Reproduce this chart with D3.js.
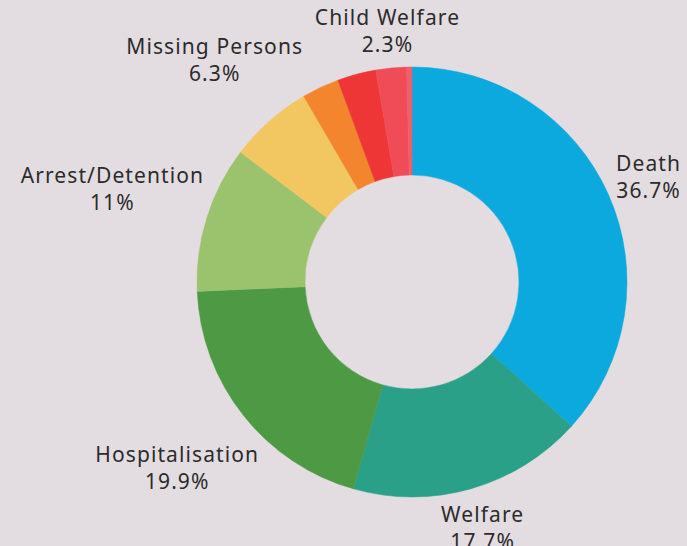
<!DOCTYPE html>
<html>
<head>
<meta charset="utf-8">
<script src="https://cdn.jsdelivr.net/npm/d3@7"></script>
<style>
  html, body { margin: 0; padding: 0; background: #e3dde1; }
  svg { display: block; }
</style>
</head>
<body>
<svg id="chart"></svg>
<script>
const width = 687,
  height = 546;

// slices clockwise from 12 o'clock
const categories = ["Death", "Welfare", "Hospitalisation", "Arrest/Detention", "Missing Persons", "Other A", "Other B", "Child Welfare", "Other C"];
const values = [36.7, 17.7, 19.9, 11, 6.3, 2.8, 2.9, 2.3, 0.4];
const labels = ["36.7%", "17.7%", "19.9%", "11%", "6.3%", null, null, "2.3%", null];
const colors = ["#0ba9de", "#2aa089", "#4d9944", "#9bc36d", "#f2c660", "#f4852f", "#ee3637", "#ef4c57", "#ef5e6b"];

const cx = 412,
  cy = 282,
  outerR = 215,
  innerR = 107;

const svg = d3
  .select("#chart")
  .attr("width", width)
  .attr("height", height);

const g = svg.append("g").attr("transform", `translate(${cx},${cy})`);

const data = categories.map((c, i) => ({ name: c, value: values[i], label: labels[i], color: colors[i] }));

const pie = d3.pie().value((d) => d.value).sort(null);
const arc = d3.arc().innerRadius(innerR).outerRadius(outerR);

const arcs = pie(data);

g.selectAll("path")
  .data(arcs)
  .enter()
  .append("path")
  .attr("d", arc)
  .attr("fill", (d) => d.data.color)
  .attr("stroke", (d) => d.data.color)
  .attr("stroke-width", 0.5);

// labels outside, pushed out by their own box size
const lineH = 27;
const labelG = g
  .selectAll(".label")
  .data(arcs.filter((d) => d.data.label))
  .enter()
  .append("text")
  .attr("class", "label")
  .attr("text-anchor", "middle")
  .attr("font-family", "'Noto Sans', 'Open Sans', sans-serif")
  .attr("font-size", "21px")
  .attr("letter-spacing", "1.1px")
  .attr("fill", "#2b2b2b");

labelG
  .append("tspan")
  .attr("x", 0)
  .attr("y", 0)
  .text((d) => d.data.name);
labelG
  .append("tspan")
  .attr("x", 0)
  .attr("y", lineH)
  .text((d) => d.data.label);

labelG.each(function (d) {
  const box = this.getBBox();
  const a = (d.startAngle + d.endAngle) / 2;
  const s = Math.sin(a),
    c = -Math.cos(a);
  const r = outerR + 3 + (box.width / 2) * Math.abs(s) + (box.height / 2) * Math.abs(c);
  const px = r * s,
    py = r * c;
  const midY = box.y + box.height / 2;
  d3.select(this).attr("transform", `translate(${px},${py - midY})`);
});
</script>
</body>
</html>
